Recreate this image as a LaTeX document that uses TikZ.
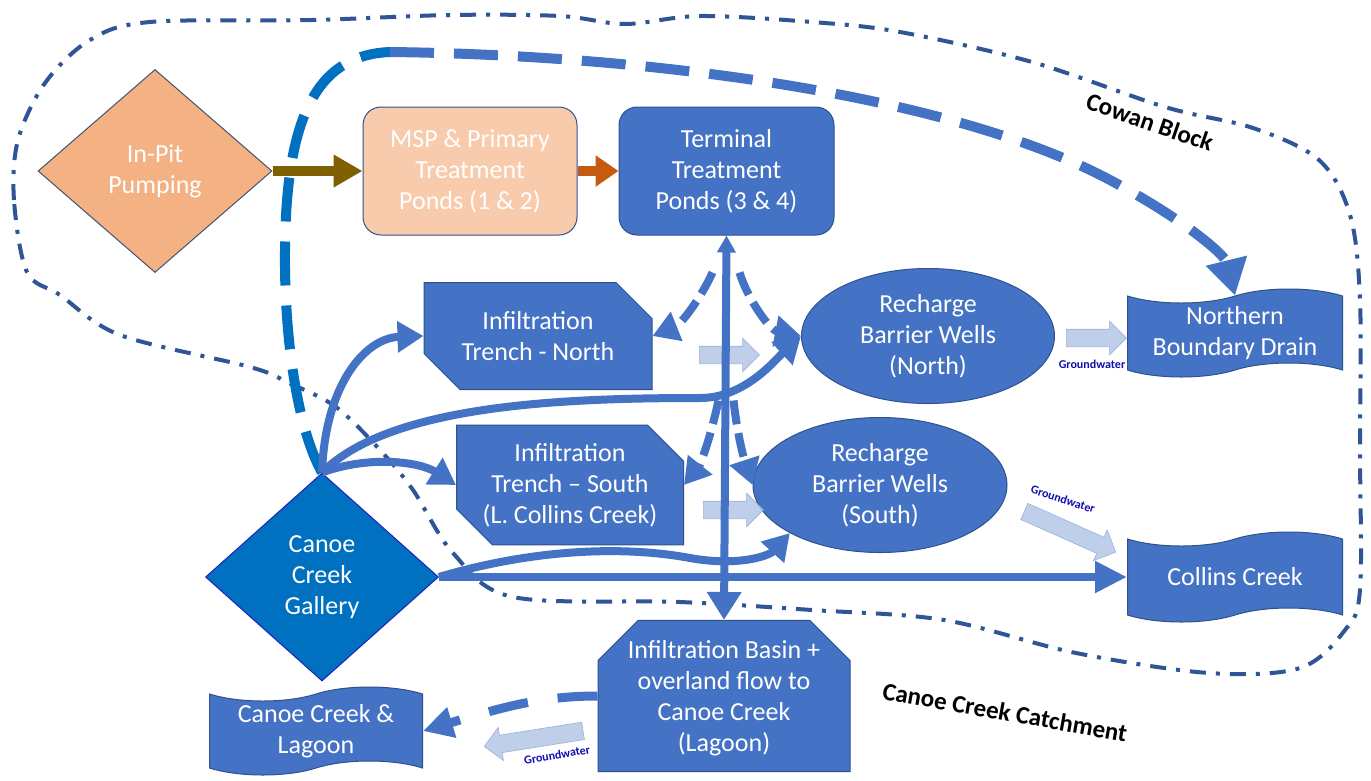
\documentclass[tikz,border=0pt]{standalone}
\usepackage{fontspec}
\setmainfont{Carlito}
\usepackage{tikz}
\usetikzlibrary{arrows.meta,positioning,calc,shapes.geometric,shapes.misc,shapes.symbols,shapes.arrows}
\definecolor{pondblue}{HTML}{4472C4}
\definecolor{pondedge}{HTML}{2F528F}
\definecolor{pitorange}{HTML}{F4B183}
\definecolor{pitedge}{HTML}{44546A}
\definecolor{msppeach}{HTML}{F8CBAD}
\definecolor{galblue}{HTML}{0070C0}
\definecolor{galedge}{HTML}{1F1FC0}
\definecolor{pumpolive}{HTML}{7F6000}
\definecolor{rust}{HTML}{C55A11}
\definecolor{gwlight}{HTML}{B4C7E7}
\definecolor{gwtext}{HTML}{1010B0}
\definecolor{bndblue}{HTML}{2F5597}

\begin{document}
\begin{tikzpicture}[x=1pt, y=-1pt, font=\fontsize{26}{31}\selectfont]
  \tikzstyle{pond}=[draw=pondedge, line width=1pt, fill=pondblue, text=white, align=center, inner sep=0pt]
  \tikzstyle{pitbox}=[pond, diamond, fill=pitorange, draw=pitedge, minimum width=234pt, minimum height=203pt]
  \tikzstyle{tankbox}=[pond, rounded corners=18pt, minimum width=214pt, minimum height=128pt]
  \tikzstyle{snipbox}=[pond, chamfered rectangle, chamfered rectangle xsep=18pt, chamfered rectangle ysep=18pt, chamfered rectangle corners={north east,south west}]
  \tikzstyle{wellbox}=[pond, ellipse, minimum width=253pt, minimum height=135pt]
  \tikzstyle{creekbox}=[pond, tape, tape bend height=14pt, minimum width=215pt, minimum height=88pt]
  \tikzstyle{flow}=[draw=pondblue, line width=8pt, -{Triangle[length=26pt,width=30pt]}]
  \tikzstyle{fan}=[flow, dash pattern=on 24pt off 9pt]
  \tikzstyle{bigdash}=[line width=10pt, dash pattern=on 44pt off 20pt]
  \tikzstyle{gw}=[single arrow, fill=gwlight, fill opacity=0.85, draw=gwlight!75!pondblue, line width=0.6pt, minimum height=60pt, inner xsep=0pt, inner ysep=8.5pt, single arrow head extend=8pt]
  \tikzstyle{gwlabel}=[text=gwtext, font=\fontsize{12}{14}\bfseries\selectfont]
  \tikzstyle{region}=[font=\fontsize{25}{30}\bfseries\selectfont]
  \tikzstyle{boundary}=[draw=bndblue, line width=4pt, dash pattern=on 16pt off 10pt on 4pt off 10pt]

  \fill[white] (0,0) rectangle (1371,780);
  \useasboundingbox (0,0) rectangle (1371,780);

  % Cowan Block limit
  \draw[boundary] plot[smooth cycle, tension=0.55] coordinates {
    (27,272) (14,200) (18,140) (45,83) (90,40) (150,22) (312,20) (450,15)
    (560,16) (625,24) (700,16) (812,22) (900,32) (1032,62) (1165,107)
    (1253,128) (1319,160) (1350,215) (1360,300) (1360,450) (1360,590)
    (1345,630) (1300,668) (1209,673) (1076,653) (944,620) (812,610)
    (680,602) (513,597) (453,553) (413,490) (380,450) (336,407) (289,383)
    (250,367) (120,335) (60,295)};

  % sources and treatment
  \node[pitbox] (pit) at (155,171) {In-Pit\\Pumping};
  \node[tankbox, fill=msppeach, right=90pt of pit] (msp) {MSP \& Primary\\Treatment\\Ponds (1 \& 2)};
  \node[tankbox, minimum width=215pt, right=41pt of msp] (term) {Terminal\\Treatment\\Ponds (3 \& 4)};
  \node[pond, diamond, fill=galblue, draw=galedge, minimum width=233pt, minimum height=208pt] (gal) at (322,577) {Canoe\\Creek\\Gallery};

  % recharge
  \node[snipbox, minimum width=228pt, minimum height=107pt] (trN) at (538,336) {Infiltration\\Trench - North};
  \node[snipbox, minimum width=227pt, minimum height=106pt] (trS) at (570,485) {Infiltration\\Trench -- South\\(L. Collins Creek)};
  \node[wellbox] (rbN) at (928,336) {Recharge\\Barrier Wells\\(North)};
  \node[wellbox, minimum width=254pt] (rbS) at (880,485) {Recharge\\Barrier Wells\\(South)};
  \node[pond, chamfered rectangle, chamfered rectangle xsep=20pt, chamfered rectangle ysep=20pt, chamfered rectangle corners={north west,north east}, minimum width=252pt, minimum height=128pt, text depth=-4pt] (basin) at (724,696) {Infiltration Basin +\\overland flow to\\Canoe Creek\\(Lagoon)};

  % receiving waters
  \node[creekbox] (nbd) at (1235,333) {Northern\\Boundary Drain};
  \node[creekbox, minimum height=90pt] (cc) at (1235,577) {Collins Creek};
  \node[creekbox, minimum width=213pt] (ccl) at (316,731) {Canoe Creek \&\\Lagoon};

  % groundwater movement
  \node[gw] (gwTN) at (725,355) {};
  \node[gw] (gwTS) at (729,510) {};
  \node[gw] (gwRN) at (1092,338) {};
  \node[gw, minimum height=100pt, rotate=-24] (gwRS) at (1066,530) {};
  \node[gw, minimum height=100pt, rotate=189] (gwB) at (538,738) {};
  \node[gwlabel] (gwRNtxt) at (1092,364) {Groundwater};
  \node[gwlabel, rotate=-18] (gwRStxt) at (1063,499) {Groundwater};
  \node[gwlabel, rotate=10] (gwBtxt) at (557,755) {Groundwater};

  % long route to the drain
  \coordinate (loopTop) at (390,52);
  \draw[bigdash, draw=galblue] (gal.north) .. controls (298,430) and (284,340) .. (285,250) .. controls (286,120) and (315,55) .. (loopTop);
  \draw[bigdash, draw=pondblue, -{Triangle[length=36pt,width=40pt]}] (loopTop) .. controls (650,55) and (950,95) .. (1110,180) .. controls (1185,220) and (1225,255) .. (nbd.north);

  % treatment train
  \draw[flow, draw=pumpolive, line width=10pt, -{Triangle[length=29pt,width=31pt]}] (pit.east) -- (msp.west);
  \draw[flow, draw=rust, line width=10pt, -{Triangle[length=23pt,width=30pt]}] (msp.east) -- (term.west);
  \draw[flow, {Triangle[length=17pt,width=18pt]}-{Triangle[length=28pt,width=33pt]}] (term.south) -- (basin.north);

  % dashed release from the terminal ponds
  \coordinate (fanNW) at ($(term.south)+(-14,37)$);
  \coordinate (fanNE) at ($(term.south)+(13,37)$);
  \coordinate (fanSW) at ($(term.south)+(-8,165)$);
  \coordinate (fanSE) at ($(term.south)+(7,165)$);
  \draw[fan] (fanNW) .. controls (700,300) and (680,325) .. (trN.east);
  \draw[fan] (fanNE) .. controls (748,300) and (770,330) .. (rbN.west);
  \draw[fan] (fanSW) .. controls (710,440) and (700,465) .. (trS.east);
  \draw[fan] (fanSE) .. controls (738,440) and (745,462) .. (rbS.west);

  % gallery outlets
  \draw[flow] (gal.north) .. controls (325,385) and (365,338) .. (trN.west);
  \draw[flow] (gal.north) .. controls (390,405) and (560,398) .. (700,398) .. controls (745,398) and (775,360) .. (rbN.west);
  \draw[flow] (gal.north) .. controls (370,455) and (420,462) .. (trS.west);
  \draw[flow] (gal.east) .. controls (530,550) and (620,545) .. (690,558) .. controls (740,567) and (770,555) .. (rbS.south west);
  \draw[flow, -{Triangle[length=32pt,width=30pt]}] (gal.east) -- (cc.west);

  % basin overflow
  \draw[flow, line width=9pt, dash pattern=on 40pt off 30pt, -{Triangle[length=30pt,width=30pt]}] (basin.west) .. controls (540,696) and (500,708) .. (ccl.east);

  \node[region, rotate=-19] (cowan) at (1150,122) {Cowan Block};
  \node[region, rotate=-10] (catch) at (1005,712) {Canoe Creek Catchment};
\end{tikzpicture}
\end{document}
